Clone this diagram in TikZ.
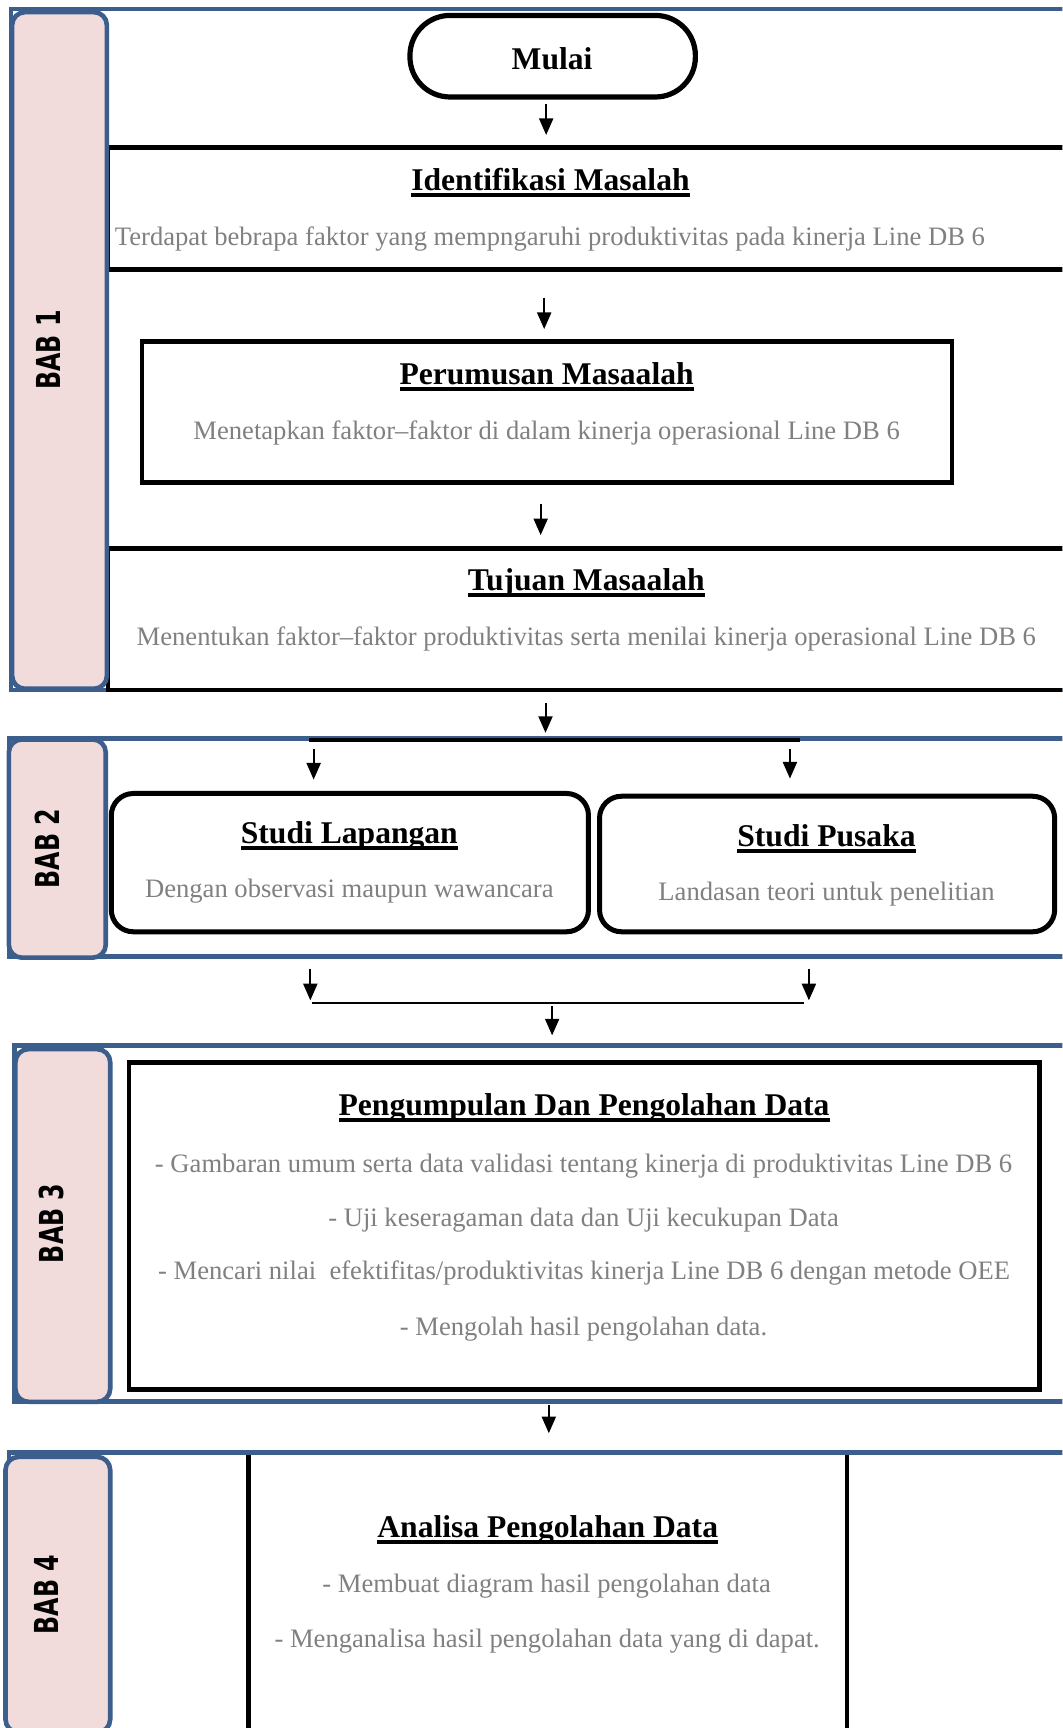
\documentclass[tikz,border=0pt]{standalone}
\usepackage{fontspec}
\setmainfont{Liberation Serif}
\newfontfamily\babfont{DejaVu Sans}
\usetikzlibrary{fit,arrows.meta}
\definecolor{laneblue}{HTML}{3B5E8C}
\definecolor{lanepink}{HTML}{F2DCDB}
\definecolor{bodygray}{HTML}{808080}
\newcommand\ulx[1]{\leavevmode\setbox0\hbox{#1}\rlap{\rule[-3.3pt]{\wd0}{1.9pt}}\box0}
\begin{document}
\begin{tikzpicture}[x=0.55085pt,y=-0.55085pt,
  lane/.style={draw=laneblue,line width=2.3pt,inner sep=0pt},
  header/.style={draw=laneblue,fill=lanepink,line width=2.3pt,rounded corners=6.5pt,inner sep=0pt},
  babtext/.style={rotate=90,inner sep=0pt,font=\babfont\bfseries\fontsize{16.5}{18}\selectfont},
  box/.style={draw=black,line width=2.3pt,inner sep=0pt},
  rbox/.style={box,line width=2.5pt,rounded corners=11pt},
  title/.style={anchor=base,inner sep=0pt,font=\bfseries\fontsize{15.8}{18}\selectfont},
  body/.style={anchor=base,inner sep=0pt,text=bodygray,font=\fontsize{13.3}{15}\selectfont},
  arr/.style={-{Triangle[length=8.3pt,width=7pt]},line width=1pt},
  link/.style={line width=1.2pt}]
\useasboundingbox (0,0) rectangle (964,1568);
\clip (0,0) rectangle (964,1568);
% analisa box (under the lane line)
\node[box, fit={(225.6,1318) (768.4,1700)}] (analisa) {};
% lanes
\node[lane, fit={(10,8) (1000,626)}] (lane1) {};
\node[lane, fit={(8,670) (1000,868)}] (lane2) {};
\node[lane, fit={(13,948.5) (1000,1271.5)}] (lane3) {};
\node[lane, fit={(8,1318) (1000,1700)}] (lane4) {};
% boxes
\node[box, line width=2.6pt, rounded corners=20pt, fit={(372,14) (631,88)}] (mulai) {};
\node[box, fit={(98,134) (1000,244.5)}] (ident) {};
\node[box, fit={(129,310) (864,438)}] (perum) {};
\node[box, fit={(98,497.5) (1000,626)}] (tujuan) {};
\node[rbox, fit={(101,720) (534,845.5)}] (lap) {};
\node[rbox, fit={(544,722.5) (957,845.5)}] (pus) {};
\node[box, fit={(117,964) (943.5,1261)}] (kumpul) {};
% headers
\node[header, fit={(11,11) (97,625)}] (h1) {};
\node[header, fit={(8,671) (96,869)}] (h2) {};
\node[header, fit={(14,952) (100,1272)}] (h3) {};
\node[header, fit={(5,1322) (100,1572)}] (h4) {};
\node[babtext] (b1) at (44,317.5) {\scalebox{0.72}[1]{BAB 1}};
\node[babtext] (b2) at (42.5,770) {\scalebox{0.72}[1]{BAB 2}};
\node[babtext] (b3) at (47,1110) {\scalebox{0.72}[1]{BAB 3}};
\node[babtext] (b4) at (42,1447) {\scalebox{0.72}[1]{BAB 4}};
% texts
\node[title] (tmulai) at (501,63.5) {Mulai};
\node[title] (tident) at (499.5,172.5) {\ulx{Identifikasi Masalah}};
\node[body] (bident) at (499,222.4) {Terdapat bebrapa faktor yang mempngaruhi produktivitas pada kinerja Line DB 6};
\node[title] (tperum) at (496,348.6) {\ulx{Perumusan Masaalah}};
\node[body] (bperum) at (496,398.8) {Menetapkan faktor–faktor di dalam kinerja operasional Line DB 6};
\node[title] (ttujuan) at (532,535.5) {\ulx{Tujuan Masaalah}};
\node[body] (btujuan) at (532,585.5) {Menentukan faktor–faktor produktivitas serta menilai kinerja operasional Line DB 6};
\node[title] (tlap) at (317,765.5) {\ulx{Studi Lapangan}};
\node[body] (blap) at (317,814) {Dengan observasi maupun wawancara};
\node[title] (tpus) at (750,768) {\ulx{Studi Pusaka}};
\node[body] (bpus) at (750,817) {Landasan teori untuk penelitian};
\node[title] (tkumpul) at (530,1012) {\ulx{Pengumpulan Dan Pengolahan Data}};
\node[body] (k1) at (529.5,1063.5) {- Gambaran umum serta data validasi tentang kinerja di produktivitas Line DB 6};
\node[body] (k2) at (529.5,1112.8) {- Uji keseragaman data dan Uji kecukupan Data};
\node[body] (k3) at (530,1161.3) {- Mencari nilai\ \ efektifitas/produktivitas kinerja Line DB 6 dengan metode OEE};
\node[body] (k4) at (529.5,1211.8) {- Mengolah hasil pengolahan data.};
\node[title] (tanalisa) at (497,1394.8) {\ulx{Analisa Pengolahan Data}};
\node[body] (an1) at (496,1444.8) {- Membuat diagram hasil pengolahan data};
\node[body] (an2) at (496.5,1494.7) {- Menganalisa hasil pengolahan data yang di dapat.};
% connector coordinates
\coordinate (a1s) at (495.6,94.4);  \coordinate (a1e) at (495.6,122.5);
\coordinate (a2s) at (493.8,270);   \coordinate (a2e) at (493.8,298.6);
\coordinate (a3s) at (490.6,457.5); \coordinate (a3e) at (490.6,485.6);
\coordinate (a4s) at (495,638);     \coordinate (a4e) at (495,665);
\coordinate (splitL) at (280,671.5); \coordinate (splitR) at (726,671.5);
\coordinate (a5s) at (284.6,679.3); \coordinate (a5e) at (284.6,707.4);
\coordinate (a6s) at (716.8,679.3); \coordinate (a6e) at (716.8,706.5);
\coordinate (a7s) at (281.6,879);   \coordinate (a7e) at (281.6,907.7);
\coordinate (a8s) at (734,879);     \coordinate (a8e) at (734,907.7);
\coordinate (mergeL) at (282.8,910); \coordinate (mergeR) at (729.8,910);
\coordinate (a9s) at (501,913);     \coordinate (a9e) at (501,939.5);
\coordinate (a10s) at (498,1274.5); \coordinate (a10e) at (498,1300.5);
% connectors
\draw[arr] (a1s) -- (a1e);
\draw[arr] (a2s) -- (a2e);
\draw[arr] (a3s) -- (a3e);
\draw[arr] (a4s) -- (a4e);
\draw[line width=1.6pt] (splitL) -- (splitR);
\draw[arr] (a5s) -- (a5e);
\draw[arr] (a6s) -- (a6e);
\draw[arr] (a7s) -- (a7e);
\draw[arr] (a8s) -- (a8e);
\draw[link] (mergeL) -- (mergeR);
\draw[arr] (a9s) -- (a9e);
\draw[arr] (a10s) -- (a10e);
\end{tikzpicture}
\end{document}
